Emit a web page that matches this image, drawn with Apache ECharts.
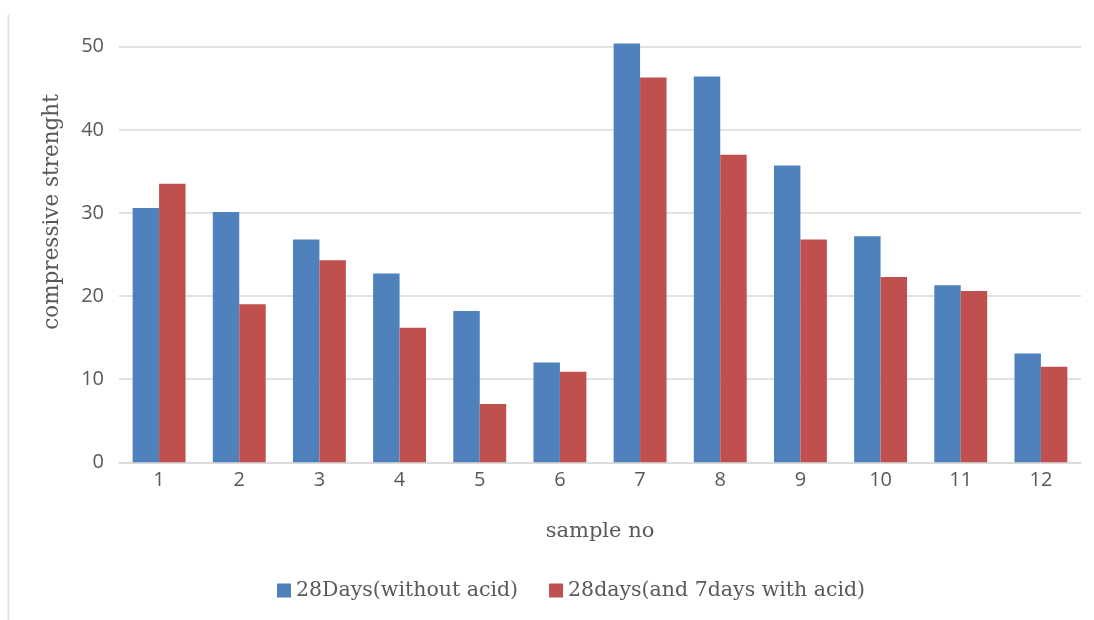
<!DOCTYPE html>
<html>
<head>
<meta charset="utf-8">
<script src="https://cdn.jsdelivr.net/npm/echarts@6/dist/echarts.min.js"></script>
<style>
  html, body { margin: 0; padding: 0; background: #fff; }
  #chart { width: 1094px; height: 620px; }
</style>
</head>
<body>
<div id="chart"></div>
<script>
// Sample numbers along the x axis
const samples = ['1', '2', '3', '4', '5', '6', '7', '8', '9', '10', '11', '12'];

// Compressive strength after 28 days, cured without acid
const withoutAcid = [30.6, 30.1, 26.8, 22.7, 18.2, 12.0, 50.4, 46.4, 35.7, 27.2, 21.3, 13.1];

// Compressive strength after 28 days plus 7 days in acid
const withAcid = [33.5, 19.0, 24.3, 16.2, 7.0, 10.9, 46.3, 37.0, 26.8, 22.3, 20.6, 11.5];

const seriesNames = ['28Days(without acid)', '28days(and 7days with acid)'];

const serif = '"DejaVu Serif", "Liberation Serif", serif';
const sans = '"Open Sans", "Noto Sans", sans-serif';
const textGray = '#595959';

const chart = echarts.init(document.getElementById('chart'), null, { renderer: 'canvas' });

chart.setOption({
  animation: false,
  backgroundColor: '#ffffff',
  grid: { left: 119, right: 13, top: 46.7, bottom: 157.7, containLabel: false },
  legend: {
    left: 277,
    top: 580,
    padding: 0,
    itemWidth: 14,
    itemHeight: 14,
    itemGap: 31,
    icon: 'rect',
    textStyle: { fontFamily: serif, fontSize: 20.5, color: textGray },
    data: seriesNames
  },
  xAxis: {
    type: 'category',
    data: samples,
    name: 'sample no',
    nameLocation: 'middle',
    nameGap: 59,
    nameTextStyle: { fontFamily: serif, fontSize: 21, color: textGray },
    axisLine: { show: true, lineStyle: { color: '#d9d9d9', width: 1.5 } },
    axisTick: { show: false },
    axisLabel: { fontFamily: sans, fontSize: 20, color: textGray, margin: 8 }
  },
  yAxis: {
    type: 'value',
    min: 0,
    max: 50,
    interval: 10,
    axisLine: { show: false },
    axisTick: { show: false },
    splitLine: { lineStyle: { color: '#d9d9d9', width: 1.5 } },
    axisLabel: { fontFamily: sans, fontSize: 20, color: textGray, margin: 15 }
  },
  graphic: [
    {
      type: 'line',
      shape: { x1: 8.5, y1: 14, x2: 8.5, y2: 620 },
      style: { stroke: '#e6e6e6', lineWidth: 2 },
      silent: true
    },
    {
      type: 'text',
      x: 52,
      y: 212,
      rotation: Math.PI / 2,
      style: {
        text: 'compressive strenght',
        fontFamily: serif,
        fontSize: 21.5,
        fill: textGray,
        align: 'center',
        verticalAlign: 'middle'
      },
      silent: true
    }
  ],
  series: [
    {
      name: seriesNames[0],
      type: 'bar',
      data: withoutAcid,
      clip: false,
      barGap: '0%',
      barCategoryGap: '34%',
      itemStyle: { color: '#4f81bd' }
    },
    {
      name: seriesNames[1],
      type: 'bar',
      data: withAcid,
      clip: false,
      barGap: '0%',
      barCategoryGap: '34%',
      itemStyle: { color: '#c0504d' }
    }
  ]
});
</script>
</body>
</html>
